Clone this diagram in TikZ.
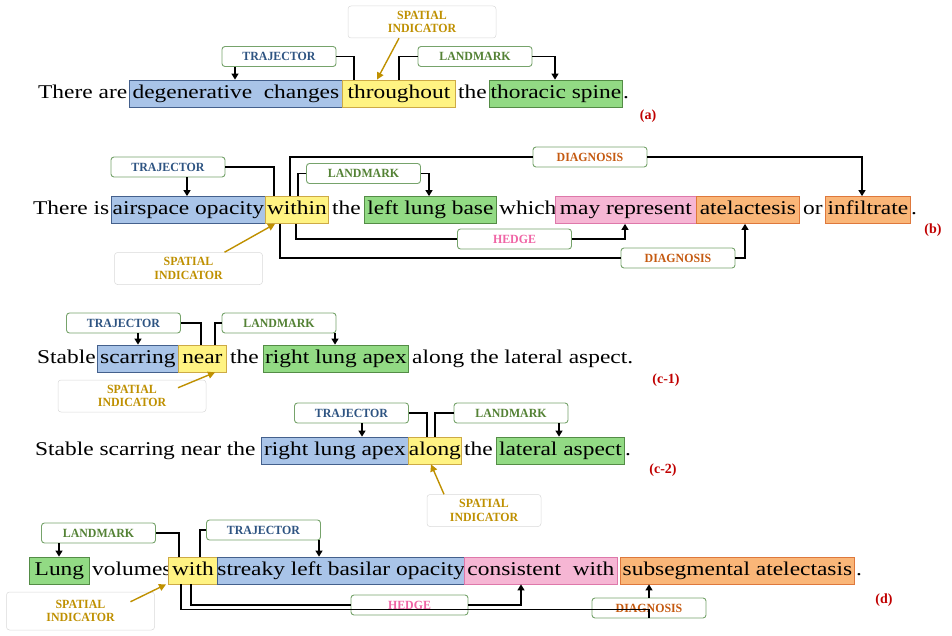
\documentclass[tikz,border=0pt]{standalone}
\usepackage{fontspec}
\setmainfont{Liberation Serif}
\newfontfamily\wordfont[FakeStretch=1.2]{Liberation Serif}
\newfontfamily\tagfont[FakeStretch=0.95]{Liberation Serif}
\usepackage{xcolor}
\usetikzlibrary{arrows.meta, positioning, calc}
\definecolor{trjfill}{RGB}{169,196,232}
\definecolor{trjline}{RGB}{68,96,140}
\definecolor{spfill}{RGB}{255,243,130}
\definecolor{spline}{RGB}{205,170,70}
\definecolor{lmfill}{RGB}{146,218,132}
\definecolor{lmline}{RGB}{84,140,70}
\definecolor{hdfill}{RGB}{246,182,212}
\definecolor{hdline}{RGB}{222,120,170}
\definecolor{dgfill}{RGB}{250,182,120}
\definecolor{dgline}{RGB}{222,120,60}
\definecolor{trjtext}{RGB}{46,84,130}
\definecolor{lmtext}{RGB}{84,130,53}
\definecolor{hdtext}{RGB}{240,100,165}
\definecolor{dgtext}{RGB}{197,90,17}
\definecolor{sptext}{RGB}{191,144,0}
\definecolor{tagred}{RGB}{192,0,0}
\tikzset{
    word/.style={
        anchor=west,
        inner sep=0pt,
        text height=14pt,
        text depth=4.5pt,
        font=\wordfont\fontsize{19.5}{20}\selectfont
    },
    hl/.style={
        word,
        draw,
        thick,
        minimum height=27pt
    },
    trjbox/.style={hl, fill=trjfill, draw=trjline},
    spbox/.style={hl, fill=spfill, draw=spline},
    lmbox/.style={hl, fill=lmfill, draw=lmline},
    hdbox/.style={hl, fill=hdfill, draw=hdline},
    dgbox/.style={hl, fill=dgfill, draw=dgline},
    tag/.style={
        rectangle,
        rounded corners=3pt,
        draw=lmline!80,
        line width=0.9pt,
        fill=white,
        minimum height=20pt,
        minimum width=114pt,
        inner sep=1pt,
        align=center,
        font=\tagfont\fontsize{12.5}{13.5}\selectfont\bfseries
    },
    sptag/.style={
        tag,
        draw=black!15,
        line width=0.5pt,
        text=sptext,
        minimum height=32pt,
        minimum width=148pt
    },
    panel/.style={
        font=\fontsize{14}{14}\selectfont\bfseries,
        text=tagred
    },
    link/.style={
        draw=black,
        line width=1.2pt
    },
    arr/.style={
        link,
        -{Triangle[length=6pt,width=7pt]}
    },
    sparr/.style={
        draw=sptext,
        line width=1.4pt,
        -{Triangle[length=7pt,width=7pt]}
    }
}

\begin{document}
\begin{tikzpicture}[x=1pt, y=-1pt]
\useasboundingbox (0,0) rectangle (952,636);

% (a)
\node[word] (a-w1) at (38,93.5) {There are};
\node[trjbox, minimum width=213pt] (a-trj) at (129,93.5) {degenerative\ \ changes};
\node[spbox, minimum width=113pt] (a-sp) at (342,93.5) {throughout};
\node[word] (a-w2) at (458,93.5) {the};
\node[lmbox, minimum width=133pt] (a-lm) at (489,93.5) {thoracic spine};
\node[word] (a-w3) at (623,93.5) {.};
\node[tag, text=trjtext] (a-lt) at (279,56.5) {TRAJECTOR};
\node[tag, text=lmtext] (a-ll) at (475,56.5) {LANDMARK};
\node[sptag] (a-ls) at (422,22) {SPATIAL\\INDICATOR};
\node[panel] (a-tag) at (648,116) {(a)};

\draw[arr] ([xshift=-44pt]a-lt.south) -- ([xshift=-44pt]a-lt.south |- a-trj.north);
\draw[link] (a-lt.east) -| ([xshift=12pt]a-sp.north west);
\draw[link] (a-ll.west) -| ([xshift=57pt]a-sp.north west);
\draw[arr] (a-ll.east) -| ([xshift=66pt]a-lm.north west);
\draw[sparr] ([xshift=-23pt]a-ls.south) -- ([xshift=35pt]a-sp.north west);

% (b)
\node[word] (b-w1) at (33,210) {There is};
\node[trjbox, minimum width=154pt] (b-trj) at (111,210) {airspace opacity};
\node[spbox, minimum width=63pt] (b-sp) at (265,210) {within};
\node[word] (b-w2) at (332,210) {the};
\node[lmbox, minimum width=132pt] (b-lm) at (364,210) {left lung base};
\node[word] (b-w3) at (499,210) {which};
\node[hdbox, minimum width=141pt] (b-hd) at (555,210) {may represent};
\node[dgbox, minimum width=103pt] (b-dg1) at (696,210) {atelactesis};
\node[word] (b-w4) at (803,210) {or};
\node[dgbox, minimum width=85pt] (b-dg2) at (825,210) {infiltrate};
\node[word] (b-w5) at (911,210) {.};
\node[tag, text=trjtext] (b-lt) at (168,167) {TRAJECTOR};
\node[tag, text=dgtext] (b-ld1) at (590,157) {DIAGNOSIS};
\node[tag, text=lmtext] (b-ll) at (363.5,173.5) {LANDMARK};
\node[tag, text=hdtext] (b-lh) at (514.5,239) {HEDGE};
\node[tag, text=dgtext] (b-ld2) at (678,258) {DIAGNOSIS};
\node[sptag] (b-ls) at (188.5,268.5) {SPATIAL\\INDICATOR};
\node[panel] (b-tag) at (933,230) {(b)};

\draw[arr] ([xshift=19pt]b-lt.south) -- ([xshift=19pt]b-lt.south |- b-trj.north);
\draw[link] (b-lt.east) -| ([xshift=9pt]b-sp.north west);
\draw[link] (b-ld1.west) -| ([xshift=25pt]b-sp.north west);
\draw[arr] (b-ld1.east) -| ([xshift=37pt]b-dg2.north west);
\draw[link] (b-ll.west) -| ([xshift=33pt]b-sp.north west);
\draw[arr] (b-ll.east) -| ([xshift=65pt]b-lm.north west);
\draw[link] ([xshift=31pt]b-sp.south west) |- (b-lh.west);
\draw[arr] (b-lh.east) -| ([xshift=70pt]b-hd.south west);
\draw[link] ([xshift=15pt]b-sp.south west) |- (b-ld2.west);
\draw[arr] (b-ld2.east) -| ([xshift=49pt]b-dg1.south west);
\draw[sparr] ([xshift=36pt]b-ls.north) -- ([xshift=10pt]b-sp.south west);

% (c-1)
\node[word] (c1-w1) at (37,358.5) {Stable};
\node[trjbox, minimum width=81pt] (c1-trj) at (97,358.5) {scarring};
\node[spbox, minimum width=48pt] (c1-sp) at (178,358.5) {near};
\node[word] (c1-w2) at (230,358.5) {the};
\node[lmbox, minimum width=145pt] (c1-lm) at (263,358.5) {right lung apex};
\node[word] (c1-w3) at (412,358.5) {along the lateral aspect.};
\node[tag, text=trjtext] (c1-lt) at (123.5,323) {TRAJECTOR};
\node[tag, text=lmtext] (c1-ll) at (279,323) {LANDMARK};
\node[sptag] (c1-ls) at (132,396) {SPATIAL\\INDICATOR};
\node[panel] (c1-tag) at (666,380) {(c-1)};

\draw[arr] ([xshift=14.5pt]c1-lt.south) -- ([xshift=14.5pt]c1-lt.south |- c1-trj.north);
\draw[link] (c1-lt.east) -| ([xshift=23pt]c1-sp.north west);
\draw[link] (c1-ll.west) -| ([xshift=37pt]c1-sp.north west);
\draw[arr] ([xshift=56pt]c1-ll.south) -- ([xshift=56pt]c1-ll.south |- c1-lm.north);
\draw[sparr] ([xshift=46pt,yshift=-8pt]c1-ls.north) -- ([xshift=37pt]c1-sp.south west);

% (c-2)
\node[word] (c2-w1) at (35,450.5) {Stable scarring near the};
\node[trjbox, minimum width=147pt] (c2-trj) at (261,450.5) {right lung apex};
\node[spbox, minimum width=53pt] (c2-sp) at (408,450.5) {along};
\node[word] (c2-w2) at (464,450.5) {the};
\node[lmbox, minimum width=128pt] (c2-lm) at (496,450.5) {lateral aspect};
\node[word] (c2-w3) at (625,450.5) {.};
\node[tag, text=trjtext] (c2-lt) at (351.5,413) {TRAJECTOR};
\node[tag, text=lmtext] (c2-ll) at (511,413) {LANDMARK};
\node[sptag, minimum width=114pt] (c2-ls) at (484,510.5) {SPATIAL\\INDICATOR};
\node[panel] (c2-tag) at (663,470) {(c-2)};

\draw[arr] ([xshift=10.5pt]c2-lt.south) -- ([xshift=10.5pt]c2-lt.south |- c2-trj.north);
\draw[link] (c2-lt.east) -| ([xshift=19pt]c2-sp.north west);
\draw[link] (c2-ll.west) -| ([xshift=27pt]c2-sp.north west);
\draw[arr] ([xshift=48pt]c2-ll.south) -- ([xshift=48pt]c2-ll.south |- c2-lm.north);
\draw[sparr] ([xshift=-40pt]c2-ls.north) -- ([xshift=23pt]c2-sp.south west);

% (d)
\node[lmbox, minimum width=60pt] (d-lm) at (29,570.5) {Lung};
\node[word] (d-w1) at (92,570.5) {volumes};
\node[spbox, minimum width=49pt] (d-sp) at (168,570.5) {with};
\node[trjbox, minimum width=247pt] (d-trj) at (217,570.5) {streaky left basilar opacity};
\node[hdbox, minimum width=153pt] (d-hd) at (464,570.5) {consistent\ \ with};
\node[dgbox, minimum width=234pt] (d-dg) at (620,570.5) {subsegmental atelectasis};
\node[word] (d-w2) at (856,570.5) {.};
\node[tag, text=lmtext] (d-ll) at (98.5,533) {LANDMARK};
\node[tag, text=trjtext] (d-lt) at (263.5,530) {TRAJECTOR};
\node[tag, text=hdtext, minimum width=117pt] (d-lh) at (409.5,605) {HEDGE};
\node[tag, text=dgtext] (d-ld) at (649,608) {DIAGNOSIS};
\node[sptag, minimum height=38pt] (d-ls) at (80.5,611) {SPATIAL\\INDICATOR};
\node[panel] (d-tag) at (884,600) {(d)};

\draw[arr] ([xshift=-39.5pt]d-ll.south) -- ([xshift=-39.5pt]d-ll.south |- d-lm.north);
\draw[link] (d-ll.east) -| ([xshift=11pt]d-sp.north west);
\draw[link] (d-lt.west) -| ([xshift=32pt]d-sp.north west);
\draw[arr] ([xshift=55.5pt]d-lt.south) -- ([xshift=55.5pt]d-lt.south |- d-trj.north);
\draw[link] ([xshift=23pt]d-sp.south west) |- (d-lh.west);
\draw[arr] (d-lh.east) -| ([xshift=57pt]d-hd.south west);
\draw[link] ([xshift=13pt]d-sp.south west) |- ([yshift=9pt]d-ld.south) -- (d-ld.south);
\draw[arr] (d-ld.north) -- (d-ld.north |- d-dg.south);
\draw[sparr] ([xshift=50pt,yshift=-10pt]d-ls.north) -- ([xshift=-2pt]d-sp.south west);
\end{tikzpicture}
\end{document}
